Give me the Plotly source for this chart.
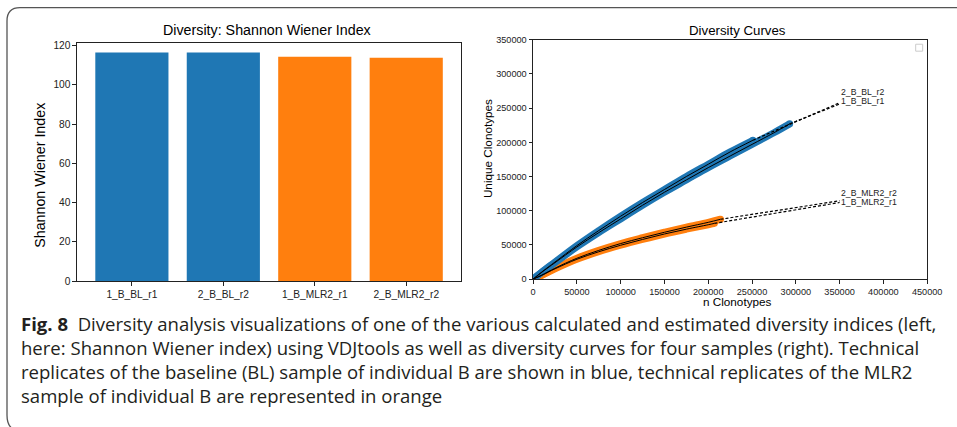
import plotly.graph_objects as go

W, H = 957, 427

# ---------------- data ----------------
samples = ["1_B_BL_r1", "2_B_BL_r2", "1_B_MLR2_r1", "2_B_MLR2_r2"]
shannon = [116.5, 116.5, 114.4, 113.9]
bar_colors = ["#1f77b4", "#1f77b4", "#ff7f0e", "#ff7f0e"]

bl_r1_x = [0, 10000, 25000, 50000, 75000, 100000, 125000, 150000, 175000, 200000, 225000, 250000, 275000, 293000]
bl_r1_y = [0, 10000, 24000, 47000, 68000, 88000, 108000, 127000, 145000, 163000, 180000, 197000, 214000, 227000]
bl_r2_x = [0, 10000, 25000, 50000, 75000, 100000, 125000, 150000, 175000, 200000, 225000, 251000]
bl_r2_y = [0, 10500, 25000, 49000, 71000, 92000, 112000, 131000, 150000, 168000, 186000, 203000]

mlr_r1_x = [0, 10000, 25000, 50000, 75000, 100000, 125000, 150000, 175000, 200000, 207000]
mlr_r1_y = [0, 5500, 15000, 29000, 40000, 49500, 58000, 66000, 73000, 79500, 81500]
mlr_r2_x = [0, 10000, 25000, 50000, 75000, 100000, 125000, 150000, 175000, 200000, 214000]
mlr_r2_y = [0, 6000, 16000, 30500, 42000, 52000, 60500, 68500, 76000, 83000, 87500]

bl_r1_ext_x = [293000, 350000]
bl_r1_ext_y = [227000, 256000]
bl_r2_ext_x = [251000, 350000]
bl_r2_ext_y = [203000, 258000]
mlr_r1_ext_x = [207000, 350000]
mlr_r1_ext_y = [81500, 112000]
mlr_r2_ext_x = [214000, 350000]
mlr_r2_ext_y = [87500, 114500]

curve_labels = ["2_B_BL_r2", "1_B_BL_r1", "2_B_MLR2_r2", "1_B_MLR2_r1"]
curve_label_x = [349500, 349500, 349500, 349500]
curve_label_y = [274000, 260000, 126500, 113000]

caption_lines = [
    "<b>Fig. 8</b>\u00a0\u00a0Diversity analysis visualizations of one of the various calculated and estimated diversity indices (left,",
    "here: Shannon Wiener index) using VDJtools as well as diversity curves for four samples (right). Technical",
    "replicates of the baseline (BL) sample of individual B are shown in blue, technical replicates of the MLR2",
    "sample of individual B are represented in orange",
]

# ---------------- placement helpers (target picture pixel -> paper fraction) ----------------
S = 0.981   # observed picture scale
O = 3.0     # observed picture offset (px)

def fx(X):
    return (X - O) / (S * W)

def fy(Y):
    return 1 - (Y - O) / (S * H)

def fs(size):
    return size / S

BLUE = "#1f77b4"
ORANGE = "#ff7f0e"
TXT = "#222222"
FONT = "Liberation Sans, Arial, sans-serif"

fig = go.Figure()

fig.add_trace(go.Bar(x=samples, y=shannon, marker=dict(color=bar_colors, line=dict(width=0)),
                     width=0.8, xaxis="x", yaxis="y", showlegend=False))

for xs, ys, c in [(mlr_r1_x, mlr_r1_y, ORANGE), (mlr_r2_x, mlr_r2_y, ORANGE),
                  (bl_r1_x, bl_r1_y, BLUE), (bl_r2_x, bl_r2_y, BLUE)]:
    fig.add_trace(go.Scatter(x=xs, y=ys, mode="lines", line=dict(color=c, width=7, shape="spline"),
                             xaxis="x2", yaxis="y2", showlegend=False, hoverinfo="skip"))
    fig.add_trace(go.Scatter(x=[xs[-1]], y=[ys[-1]], mode="markers",
                             marker=dict(color=c, size=7, line=dict(width=0)),
                             xaxis="x2", yaxis="y2", showlegend=False, hoverinfo="skip"))

for xs, ys in [(mlr_r1_x, mlr_r1_y), (mlr_r2_x, mlr_r2_y), (bl_r1_x, bl_r1_y), (bl_r2_x, bl_r2_y)]:
    fig.add_trace(go.Scatter(x=xs, y=ys, mode="lines", line=dict(color="black", width=1.0, shape="spline"),
                             xaxis="x2", yaxis="y2", showlegend=False, hoverinfo="skip"))
for xs, ys in [(mlr_r1_ext_x, mlr_r1_ext_y), (mlr_r2_ext_x, mlr_r2_ext_y),
               (bl_r1_ext_x, bl_r1_ext_y), (bl_r2_ext_x, bl_r2_ext_y)]:
    fig.add_trace(go.Scatter(x=xs, y=ys, mode="lines", line=dict(color="black", width=1.2, dash="3px,2px"),
                             xaxis="x2", yaxis="y2", showlegend=False, hoverinfo="skip"))

def axis_common(size):
    return dict(showline=True, mirror=True, linecolor=TXT, linewidth=1, ticks="outside",
                ticklen=fs(3.5), tickwidth=1, tickcolor=TXT, showgrid=False, zeroline=False,
                ticklabeloverflow="allow",
                tickfont=dict(family=FONT, size=fs(size), color=TXT))

annotations = []
def ann(text, X, Y, size, angle=0, family=FONT, color="black", xanchor="center"):
    annotations.append(dict(text=text, x=fx(X), y=fy(Y), xref="paper", yref="paper",
                            showarrow=False, textangle=angle,
                            font=dict(family=family, size=fs(size), color=color),
                            xanchor=xanchor, yanchor="middle"))

ann("Diversity: Shannon Wiener Index", 267, 28, 14)
ann("Shannon Wiener Index", 40, 175, 14, angle=-90)
ann("Diversity Curves", 737, 29, 13)
ann("Unique Clonotypes", 487, 148, 11.5, angle=-90)
ann("n Clonotypes", 737, 301.5, 11.5)

for t, xv, yv in zip(curve_labels, curve_label_x, curve_label_y):
    annotations.append(dict(text=t, x=xv, y=yv, xref="x2", yref="y2", showarrow=False,
                            font=dict(family=FONT, size=fs(8.5), color=TXT), xanchor="left", yanchor="middle"))

cap_y = [324, 348, 372, 396]
for t, yy in zip(caption_lines, cap_y):
    ann(t, 19, yy, 18.2, family="Open Sans, sans-serif", color="#231f20", xanchor="left")

shapes = [
    dict(type="path", xref="paper", yref="paper",
         path=f"M {fx(17)},{fy(432)} Q {fx(7)},{fy(429)} {fx(7)},{fy(416)} L {fx(7)},{fy(19)} "
              f"Q {fx(7)},{fy(5.7)} {fx(20)},{fy(5.7)} L {fx(975)},{fy(5.7)}",
         line=dict(color="#555555", width=1.3)),
    dict(type="rect", xref="paper", yref="paper", x0=fx(915.5), x1=fx(922.5), y0=fy(49.5), y1=fy(42.5),
         line=dict(color="#cccccc", width=1), fillcolor="white"),
]

fig.update_layout(
    width=W, height=H, margin=dict(l=0, r=0, t=0, b=0, pad=0),
    paper_bgcolor="white", plot_bgcolor="white",
    showlegend=False,
    xaxis=dict(domain=[fx(77), fx(461)], range=[-0.6, 3.6], type="category", anchor="y", **axis_common(10)),
    yaxis=dict(domain=[fy(281), fy(41)], range=[0, 121.5], tickvals=[0, 20, 40, 60, 80, 100, 120],
               anchor="x", **axis_common(10)),
    xaxis2=dict(domain=[fx(533), fx(927)], range=[0, 450000], dtick=50000, tick0=0, tickformat="d",
                anchor="y2", **axis_common(9)),
    yaxis2=dict(domain=[fy(279), fy(38)], range=[0, 350000], dtick=50000, tick0=0, tickformat="d",
                anchor="x2", **axis_common(9)),
    annotations=annotations,
    shapes=shapes,
)

fig.write_html("out.html")
